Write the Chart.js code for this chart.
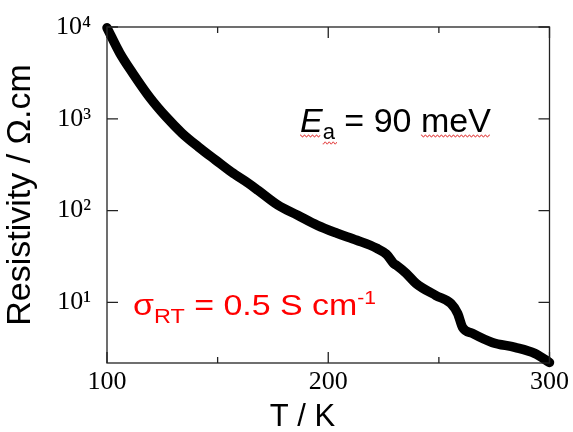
<!DOCTYPE html>
<html>
<head>
<meta charset="utf-8">
<script src="https://cdn.jsdelivr.net/npm/chart.js@4"></script>
<style>
  html, body { margin: 0; padding: 0; background: #fff; }
  #wrap { width: 573px; height: 432px; }
</style>
</head>
<body>
<div id="wrap"><canvas id="myChart"></canvas></div>
<script>
// temperature (K) and resistivity (ohm cm)
const temps = [100, 105.8, 111.6, 119.2, 126.8, 133.9, 141.5, 149.1, 156.3, 163.8, 168.3,
  177.2, 186.2, 195.1, 204, 212.9, 221.9, 226.3, 229.5, 230.8, 235.3, 239.7, 248.7, 255.4,
  258.5, 260.7, 265.2, 274.1, 284.4, 293.3, 300];
const resistivity = [9800, 5200, 3150, 1725, 1045, 698, 491, 355, 262, 199, 166,
  115, 89, 69, 56.7, 47.6, 38.9, 33.5, 26.7, 25.4, 20.7, 16.1, 11.9, 9.77,
  7.6, 5.35, 4.6, 3.67, 3.24, 2.79, 2.22];
const xLabels = [100, 200, 300];
const xMinor = [150, 250];
const yDecades = [10, 100, 1000, 10000];
const sup = { '1': '\u00b9', '2': '\u00b2', '3': '\u00b3', '4': '\u2074' };

function wavy(ctx, x0, x1, y) {
  ctx.beginPath();
  for (let x = x0; x <= x1; x += 1) {
    const yy = y + (Math.floor(x / 2) % 2 ? 1 : -1) * 0.9;
    if (x === x0) ctx.moveTo(x, yy); else ctx.lineTo(x, yy);
  }
  ctx.stroke();
}

const frameTicks = {
  id: 'frameTicks',
  afterDraw(chart) {
    const ctx = chart.ctx;
    const a = chart.chartArea;
    const xs = chart.scales.x, ys = chart.scales.y;
    ctx.save();
    ctx.strokeStyle = '#222';
    ctx.lineWidth = 1.3;
    ctx.strokeRect(a.left, a.top, a.right - a.left, a.bottom - a.top);
    ctx.beginPath();
    xLabels.concat(xMinor).forEach(v => {
      const px = xs.getPixelForValue(v);
      const len = xMinor.includes(v) ? 6 : 11;
      ctx.moveTo(px, a.bottom); ctx.lineTo(px, a.bottom - len);
      ctx.moveTo(px, a.top); ctx.lineTo(px, a.top + len);
    });
    yDecades.forEach(v => {
      const py = ys.getPixelForValue(v);
      ctx.moveTo(a.left, py); ctx.lineTo(a.left + 11, py);
      ctx.moveTo(a.right, py); ctx.lineTo(a.right - 11, py);
    });
    ctx.stroke();

    // annotations
    ctx.textBaseline = 'alphabetic';
    ctx.textAlign = 'left';
    ctx.fillStyle = '#000';
    let x = 300;
    ctx.font = 'italic 34px "Liberation Sans"';
    ctx.fillText('E', x, 132);
    x += ctx.measureText('E').width;
    const ea0 = x;
    ctx.font = '22px "Liberation Sans"';
    ctx.fillText('a', x, 139);
    x += ctx.measureText('a').width;
    ctx.font = '34px "Liberation Sans"';
    ctx.fillText(' = 90 ', x, 132);
    x += ctx.measureText(' = 90 ').width;
    const mev0 = x;
    ctx.fillText('meV', x, 132);
    const mev1 = x + ctx.measureText('meV').width;
    ctx.strokeStyle = '#e03030';
    ctx.lineWidth = 0.9;
    wavy(ctx, 300, ea0 - 2, 136);
    wavy(ctx, ea0, ea0 + 14, 143);
    wavy(ctx, mev0, mev1, 136);

    // sigma_RT label, slightly wide like the source
    ctx.fillStyle = '#ff0000';
    ctx.translate(133, 0);
    ctx.scale(1.17, 1);
    x = 0;
    ctx.font = '29px "Liberation Sans"';
    ctx.fillText('\u03c3', x, 315);
    x += ctx.measureText('\u03c3').width;
    ctx.font = '20px "Liberation Sans"';
    ctx.fillText('RT', x, 323);
    x += ctx.measureText('RT').width;
    ctx.font = '29px "Liberation Sans"';
    ctx.fillText(' = 0.5 S cm', x, 315);
    x += ctx.measureText(' = 0.5 S cm').width;
    ctx.font = '18px "Liberation Sans"';
    ctx.fillText('-1', x, 304);
    ctx.restore();
  }
};

const ctx = document.getElementById('myChart').getContext('2d');
const myChart = new Chart(ctx, {
  type: 'line',
  data: {
    datasets: [{
      data: temps.map((t, i) => ({ x: t, y: resistivity[i] })),
      borderColor: '#000',
      borderWidth: 9.5,
      borderCapStyle: 'round',
      borderJoinStyle: 'round',
      pointRadius: 0,
      cubicInterpolationMode: 'monotone',
      clip: 12
    }]
  },
  options: {
    responsive: true,
    maintainAspectRatio: false,
    animation: false,
    events: [],
    layout: { padding: { left: 0, right: 16, top: 27, bottom: 0 } },
    plugins: { legend: { display: false }, tooltip: { enabled: false } },
    scales: {
      x: {
        type: 'linear',
        min: 100,
        max: 300,
        grid: { display: false, drawTicks: false },
        border: { display: false },
        afterFit: s => { s.height = 69; },
        ticks: {
          stepSize: 50,
          padding: 4,
          color: '#000',
          font: { family: '"Liberation Serif"', size: 26 },
          callback: v => xLabels.includes(v) ? String(v) : ''
        },
        title: {
          display: true,
          text: 'T / K      ',
          color: '#000',
          padding: { top: 0, bottom: -4 },
          font: { family: '"Liberation Sans"', size: 31 }
        }
      },
      y: {
        type: 'logarithmic',
        min: 2.19,
        max: 10000,
        grid: { display: false },
        border: { display: false },
        afterFit: s => { s.width = 107; },
        ticks: {
          autoSkip: false,
          padding: 8,
          color: '#000',
          font: { family: '"Liberation Serif"', size: 26 },
          callback: v => {
            const e = Math.log10(v);
            if (Math.abs(e - Math.round(e)) > 1e-9 || e < 1) return '';
            return '10' + sup[String(Math.round(e))];
          }
        },
        title: {
          display: true,
          text: 'Resistivity / \u03a9.cm',
          color: '#000',
          padding: { top: 0, bottom: 2 },
          font: { family: '"Liberation Sans"', size: 34 }
        }
      }
    }
  },
  plugins: [frameTicks]
});
</script>
</body>
</html>
